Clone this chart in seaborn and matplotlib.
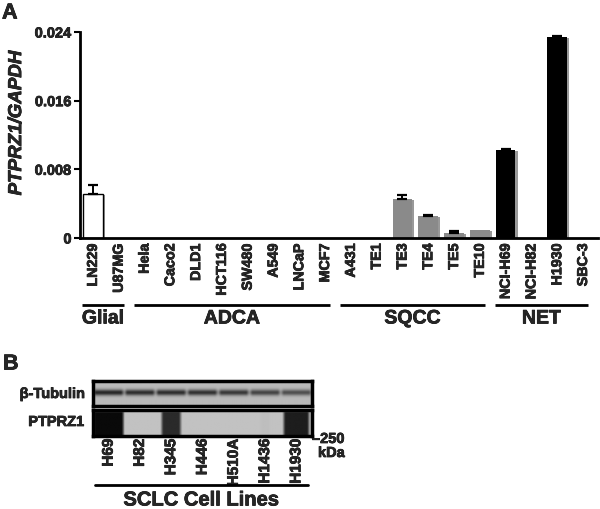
import numpy as np
import pandas as pd
import matplotlib
matplotlib.use("Agg")
import matplotlib.pyplot as plt
import matplotlib.patheffects as pe
from matplotlib.lines import Line2D
import seaborn as sns

# ---------------- data: panel A ----------------
cell_lines = ["LN229", "U87MG", "Hela", "Caco2", "DLD1", "HCT116", "SW480", "A549",
              "LNCaP", "MCF7", "A431", "TE1", "TE3", "TE4", "TE5", "TE10",
              "NCI-H69", "NCI-H82", "H1930", "SBC-3"]
groups = ["Glial"] * 2 + ["ADCA"] * 8 + ["SQCC"] * 6 + ["NET"] * 4
ratio = [0.0051, 0, 0, 0, 0, 0, 0, 0, 0, 0,
         0, 0, 0.0045, 0.0026, 0.0006, 0.0009,
         0.0103, 0, 0.0234, 0]
ratio_err = [0.0011, 0, 0, 0, 0, 0, 0, 0, 0, 0,
             0, 0, 0.0005, 0.0001, 0.0002, 0,
             0.0001, 0, 0.0001, 0]
group_names = ["Glial", "ADCA", "SQCC", "NET"]
group_colors = {"Glial": "white", "ADCA": "#8a8a8a", "SQCC": "#8a8a8a", "NET": "black"}
yticks = [0, 0.008, 0.016, 0.024]
ytick_labels = ["0", "0.008", "0.016", "0.024"]

# ---------------- data: panel B (blot) ----------------
blot_lanes = ["H69", "H82", "H345", "H446", "H510A", "H1436", "H1930"]
tubulin_band = [0.80, 0.76, 0.76, 0.74, 0.70, 0.64, 0.58]    # band darkness per lane
ptprz1_band = [0.95, 0.0, 0.78, 0.0, 0.0, 0.02, 0.85]         # band darkness per lane
ptprz1_width = [0.95, 0.0, 0.60, 0.0, 0.0, 0.30, 0.80]        # fraction of lane covered

# ---------------- figure ----------------
sns.set_theme(style="ticks")
plt.rcParams["font.family"] = ["Liberation Sans", "DejaVu Sans"]
plt.rcParams["font.weight"] = "bold"

heavy = [pe.withStroke(linewidth=0.5, foreground="black")]

fig = plt.figure(figsize=(6, 5.1), dpi=100)
W, H = 600, 510


def fx(px):
    return px / W


def fy(py):
    return 1 - py / H


ax = fig.add_axes([fx(80), fy(239), fx(598 - 80), (239 - 33) / H])

df = pd.DataFrame({"cell": cell_lines, "group": groups, "ratio": ratio})
sns.barplot(data=df, x="cell", y="ratio", hue="group", hue_order=group_names,
            palette=group_colors, dodge=False, width=0.76, saturation=1,
            errorbar=None, legend=False, ax=ax, linewidth=0)

shadow = [pe.SimplePatchShadow(offset=(1.6, -0.8), shadow_rgbFace="0.6", alpha=1.0), pe.Normal()]
for p in ax.patches:
    if p.get_height() <= 0:
        p.set_visible(False)
        continue
    fc = p.get_facecolor()
    if fc[0] > 0.95:
        p.set_edgecolor("black")
        p.set_linewidth(1.0)
    p.set_path_effects(shadow)

idx = [i for i, e in enumerate(ratio_err) if e > 0]
ax.errorbar(x=idx, y=[ratio[i] for i in idx],
            yerr=[[0] * len(idx), [ratio_err[i] for i in idx]],
            fmt="none", ecolor="black", elinewidth=1.4, capsize=3.6, capthick=1.6, zorder=1)

ax.set_xlim(-0.5, len(cell_lines) - 0.42)
ax.set_ylim(0, 0.024)
ax.set_yticks(yticks)
ax.set_yticklabels(ytick_labels, fontsize=10.5, fontweight="bold")
ax.set_xticks(range(len(cell_lines)))
ax.set_xticklabels(cell_lines, rotation=90, fontsize=10.3, fontweight="bold")
for t in ax.get_xticklabels() + ax.get_yticklabels():
    t.set_path_effects(heavy)
ax.tick_params(axis="x", length=0, pad=4)
ax.tick_params(axis="y", length=4, width=1.5, pad=2, color="black")
ax.set_xlabel("")
ax.set_ylabel("PTPRZ1/GAPDH", fontsize=13.5, fontweight="bold", fontstyle="italic",
              path_effects=heavy)
ax.yaxis.set_label_coords(-0.106, 0.558)
sns.despine(ax=ax)
for s in ["left", "bottom"]:
    ax.spines[s].set_linewidth(2)
    ax.spines[s].set_color("black")

trans = ax.get_xaxis_transform()
for g in group_names:
    members = [i for i, gg in enumerate(groups) if gg == g]
    x0, x1 = min(members) - 0.42, max(members) + 0.2
    ax.plot([x0, x1], [-0.325, -0.325], transform=trans, clip_on=False,
            color="black", lw=2, solid_capstyle="butt")
    ax.text((x0 + x1) / 2, -0.393, g, transform=trans, ha="center", va="center",
            fontsize=14, fontweight="bold", path_effects=heavy)

fig.text(fx(2), fy(14), "A", fontsize=15.5, fontweight="bold", ha="left", va="center",
         path_effects=heavy)

# ---------------- panel B ----------------
fig.text(fx(3), fy(365), "B", fontsize=15.5, fontweight="bold", ha="left", va="center",
         path_effects=heavy)

n = len(blot_lanes)
cols_per_lane = 40


def lane_window(width, soft=0.1):
    u = (np.arange(cols_per_lane) + 0.5) / cols_per_lane - 0.5
    half = width / 2
    return np.clip((half - np.abs(u)) / soft + 0.5, 0, 1)


# tubulin image
rows_t = 50
yy = (np.arange(rows_t) + 0.5) / rows_t
vprof_t = np.exp(-((yy - 0.46) / 0.12) ** 2)
img_t = np.zeros((rows_t, n * cols_per_lane))
for i, d in enumerate(tubulin_band):
    hwin = lane_window(0.95, 0.15)
    img_t[:, i * cols_per_lane:(i + 1) * cols_per_lane] = np.outer(vprof_t, hwin) * d
img_t = 0.73 * (1 - img_t)

# ptprz1 image
rows_p = 50
yy = (np.arange(rows_p) + 0.5) / rows_p
vprof_p = np.clip((yy - 0.02) / 0.08, 0, 1)
img_p = np.zeros((rows_p, n * cols_per_lane))
for i, (d, w) in enumerate(zip(ptprz1_band, ptprz1_width)):
    hwin = lane_window(w)
    img_p[:, i * cols_per_lane:(i + 1) * cols_per_lane] = np.outer(vprof_p, hwin) * d
img_p = 0.76 * (1 - img_p)

ax_t = fig.add_axes([fx(93), fy(407), fx(312 - 93), (407 - 382) / H])
ax_p = fig.add_axes([fx(93), fy(437), fx(312 - 93), (437 - 411) / H])
for a, img in [(ax_t, img_t), (ax_p, img_p)]:
    a.imshow(img, cmap="gray", vmin=0, vmax=1, aspect="auto",
             extent=(-0.5, n - 0.5, 0, 1), interpolation="bilinear")
    a.set_yticks([])
    for s in a.spines.values():
        s.set_visible(True)
        s.set_linewidth(2.5)
        s.set_color("black")
ax_t.set_xticks([])
ax_p.set_xticks(range(n))
ax_p.set_xticklabels(blot_lanes, rotation=90, fontsize=11, fontweight="bold")
for t in ax_p.get_xticklabels():
    t.set_path_effects(heavy)
ax_p.tick_params(axis="x", length=0, pad=2)

fig.text(fx(85), fy(395), "β-Tubulin", fontsize=10.5, fontweight="bold", ha="right",
         va="center", path_effects=heavy)
fig.text(fx(84), fy(423), "PTPRZ1", fontsize=10.5, fontweight="bold", ha="right",
         va="center", path_effects=heavy)
fig.text(fx(312), fy(440), "–250", fontsize=10.5, fontweight="bold", ha="left",
         va="center", path_effects=heavy)
fig.text(fx(318), fy(454), "kDa", fontsize=10.5, fontweight="bold", ha="left",
         va="center", path_effects=heavy)

fig.add_artist(Line2D([fx(95), fx(308)], [fy(486), fy(486)], color="black", lw=2))
fig.text(fx(201), fy(501), "SCLC Cell Lines", fontsize=14.5, fontweight="bold",
         ha="center", va="center", path_effects=heavy)

fig.savefig("out.png", dpi=100, facecolor="white")
